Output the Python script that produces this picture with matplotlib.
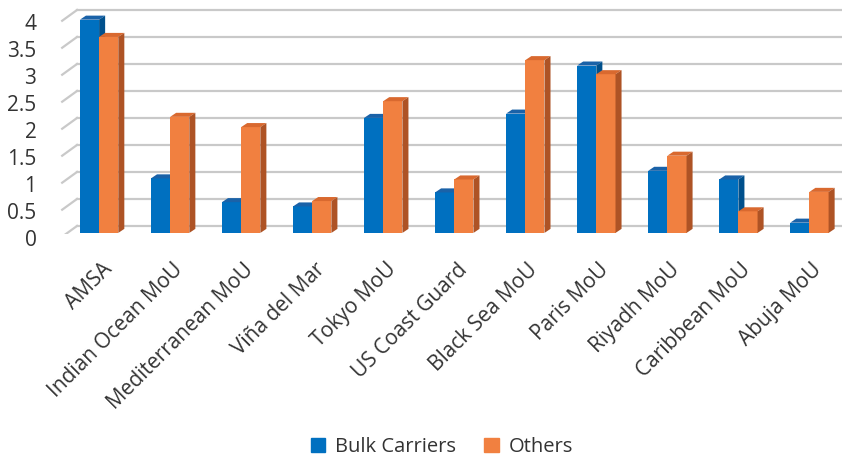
import matplotlib
matplotlib.use("Agg")
import matplotlib.pyplot as plt
import matplotlib.transforms as mtransforms
from matplotlib.patches import Polygon, Patch
import numpy as np

categories = ["AMSA", "Indian Ocean MoU", "Mediterranean MoU", "Viña del Mar",
              "Tokyo MoU", "US Coast Guard", "Black Sea MoU", "Paris MoU",
              "Riyadh MoU", "Caribbean MoU", "Abuja MoU"]
bulk = [3.95, 1.01, 0.57, 0.49, 2.13, 0.75, 2.21, 3.10, 1.15, 0.99, 0.19]
others = [3.63, 2.15, 1.96, 0.59, 2.44, 0.99, 3.20, 2.94, 1.43, 0.40, 0.76]
yticks = [0, 0.5, 1, 1.5, 2, 2.5, 3, 3.5, 4]
ytick_labels = ["0", "0.5", "1", "1.5", "2", "2.5", "3", "3.5", "4"]

plt.rcParams['font.family'] = ['Open Sans', 'DejaVu Sans']

blue, blue_top, blue_side = "#0070c0", "#1a62a8", "#00508c"
orange, orange_top, orange_side = "#f18040", "#d9692f", "#ae5325"

fig = plt.figure(figsize=(8.42, 4.61), dpi=100)
ax = fig.add_axes([0.0713, 0.4924, 0.9305, 0.4942])

w = 0.27      # bar width
dx = 0.085    # depth offset (x)
dy = 0.075    # depth offset (y)
gy = 0.13     # back wall offset

x = np.arange(len(categories))

# back wall gridlines and side wall diagonals
for v in yticks:
    ax.plot([-0.31, 10.6], [v + gy, v + gy], color="#c9c9c9", lw=1.6, zorder=0)
    ax.plot([-0.52, -0.31], [v - 0.07, v + gy], color="#c9c9c9", lw=1.6, zorder=0)


def bar3d(xl, h, front, top, side):
    ax.bar(xl, h, width=w, align='edge', color=front, zorder=2)
    ax.add_patch(Polygon([[xl, h], [xl + dx, h + dy], [xl + w + dx, h + dy], [xl + w, h]],
                         closed=True, facecolor=top, edgecolor='none', zorder=2))
    ax.add_patch(Polygon([[xl + w, 0], [xl + w + dx, dy], [xl + w + dx, h + dy], [xl + w, h]],
                         closed=True, facecolor=side, edgecolor='none', zorder=2))


for i in x:
    bar3d(i - w, bulk[i], blue, blue_top, blue_side)
    bar3d(i, others[i], orange, orange_top, orange_side)

ax.set_xlim(-0.55, 10.48)
ax.set_ylim(-0.02, 4.2)
ax.set_yticks(yticks)
ax.set_yticklabels(ytick_labels, fontsize=15, color="#333333")
ax.set_xticks(x + 0.03)
ax.set_xticklabels(categories, rotation=45, ha='right', rotation_mode='anchor',
                   fontsize=15, color="#333333")
ax.tick_params(length=0)
ax.tick_params(axis='y', pad=17)
ax.tick_params(axis='x', pad=18)
shift = mtransforms.ScaledTranslation(0, -5 / 100, fig.dpi_scale_trans)
for lab in ax.get_yticklabels():
    lab.set_transform(lab.get_transform() + shift)
for s in ax.spines.values():
    s.set_visible(False)

handles = [Patch(color=blue, label="Bulk Carriers"), Patch(color=orange, label="Others")]
fig.legend(handles=handles, loc='center', bbox_to_anchor=(0.525, 0.03), ncol=2,
           frameon=False, fontsize=14.5, handlelength=0.7, handleheight=0.7,
           columnspacing=1.4, handletextpad=0.5, labelcolor="#333333")

fig.savefig("out.png", dpi=100)
